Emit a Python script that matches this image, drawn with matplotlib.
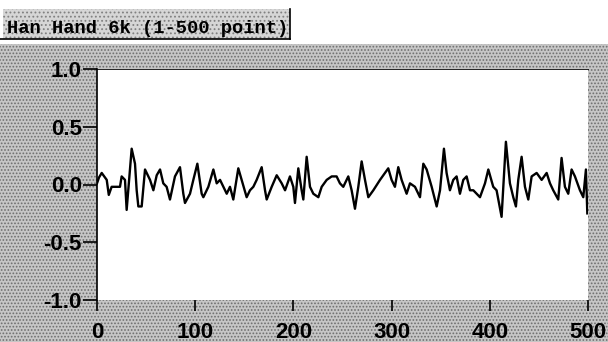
import matplotlib
matplotlib.use('Agg')
import matplotlib.pyplot as plt
from matplotlib.patches import Rectangle

# ---------- data (sample index, amplitude) ----------
sample = [0, 2, 4.8, 9.9, 12, 14.9, 23.4, 25.1, 28.5, 30.2, 35.3, 38.7, 40.4, 42.1, 45.5,
          48.9, 54, 57.4, 60.8, 64.2, 67.5, 70.9, 74.3, 79.4, 84.5, 87.9, 89.6, 94.7,
          98.1, 102.2, 106.6, 108.3, 113.4, 118.5, 121.9, 125.3, 128.7, 132.1, 135.4,
          138.8, 143.9, 147.3, 152.4, 155.8, 159.2, 162.6, 167.7, 171.1, 172.8, 177.9,
          183, 188.1, 191.5, 196.5, 199.9, 201.6, 205, 208.4, 210.1, 213.5, 216.9,
          220.3, 225.4, 228.8, 233.9, 239, 244, 247.4, 250.8, 255.9, 259.3, 262.7,
          266.1, 269.5, 272.9, 276.3, 281.4, 288.2, 291.6, 296.6, 300, 303.4, 306.8,
          310.2, 315.3, 318.7, 323.8, 328.9, 332.3, 335.7, 340.8, 345.9, 349.3, 353.3,
          356, 359.4, 362.8, 366.2, 369.6, 373, 376.4, 379.8, 383.2, 390, 395.1, 398.5,
          403.5, 406.9, 412, 416.4, 420.5, 423.9, 426.6, 429, 432.4, 435.8, 439.2,
          442.6, 447.7, 452.8, 457.9, 461.3, 464.6, 469.7, 473.1, 476.5, 479.9, 483.3,
          486.7, 491.8, 495.2, 497.9, 499.3]
amplitude = [0.01, 0.06, 0.10, 0.04, -0.09, -0.02, -0.02, 0.07, 0.04, -0.22, 0.31, 0.18,
             -0.05, -0.19, -0.19, 0.13, 0.04, -0.05, 0.08, 0.13, 0.01, -0.02, -0.13, 0.07,
             0.15, -0.08, -0.16, -0.08, 0.04, 0.18, -0.08, -0.11, -0.02, 0.13, 0.01, 0.04,
             -0.02, -0.08, -0.02, -0.13, 0.14, 0.04, -0.11, -0.05, -0.02, 0.04, 0.15, -0.05,
             -0.13, -0.02, 0.08, 0.01, -0.05, 0.07, -0.02, -0.16, 0.14, -0.05, -0.13, 0.24,
             -0.02, -0.08, -0.11, -0.02, 0.04, 0.07, 0.07, 0.01, -0.02, 0.07, -0.05, -0.21,
             -0.02, 0.20, 0.04, -0.11, -0.05, 0.04, 0.08, 0.14, 0.04, -0.02, 0.15, 0.04,
             -0.08, 0.01, -0.02, -0.11, 0.18, 0.13, -0.02, -0.19, -0.05, 0.31, 0.10, -0.05,
             0.04, 0.07, -0.08, 0.04, 0.07, -0.05, -0.05, -0.11, 0.01, 0.13, -0.02, -0.05,
             -0.28, 0.37, 0.01, -0.11, -0.19, 0.04, 0.24, -0.02, -0.13, 0.07, 0.10, 0.04,
             0.10, 0.01, -0.05, -0.13, 0.23, -0.02, -0.08, 0.13, 0.07, -0.05, -0.11, 0.13,
             -0.25]

title = 'Han Hand 6k (1-500 point)'
yticks = [-1.0, -0.5, 0.0, 0.5, 1.0]
xticks = [0, 100, 200, 300, 400, 500]

# ---------- figure ----------
W, H = 608, 342
plt.rcParams['hatch.linewidth'] = 0.8
fig = plt.figure(figsize=(W / 100, H / 100), dpi=100)
fig.patch.set_facecolor('white')

# stippled grey panel behind the plot (scan texture approximated by a hatch)
def px_rect(x0, y0, x1, y1, **kw):
    return Rectangle((x0 / W, 1 - y1 / H), (x1 - x0) / W, (y1 - y0) / H,
                     transform=fig.transFigure, **kw)

fig.patches.append(px_rect(0, 44, W, H, facecolor='#c6c6c6', hatch='.....',
                           edgecolor='#6e6e6e', linewidth=0, zorder=-10))
# title box
fig.patches.append(px_rect(3, 9, 290, 39, facecolor='#d6d6d6', hatch='....',
                           edgecolor='#808080', linewidth=0, zorder=-10))
fig.add_artist(plt.Line2D([0, 290 / W], [1 - 39 / H, 1 - 39 / H],
                          transform=fig.transFigure, color='black', lw=1.2))
fig.add_artist(plt.Line2D([290 / W, 290 / W], [1 - 9 / H, 1 - 39 / H],
                          transform=fig.transFigure, color='black', lw=1.2))
fig.text(7 / W, 1 - 33 / H, title, family='Liberation Mono', fontweight='bold',
         fontsize=13.5, ha='left', va='baseline', color='black')

# ---------- axes ----------
ax = fig.add_axes([97 / W, 1 - 300 / H, (588 - 97) / W, (300 - 69) / H])
ax.set_zorder(1)
ax.set_facecolor('white')
ax.plot(sample, amplitude, color='black', linewidth=1.7)

ax.set_xlim(0, 500)
ax.set_ylim(-1.0, 1.0)
ax.set_xticks(xticks)
ax.set_yticks(yticks)
ax.set_yticklabels([f'{v:.1f}' for v in yticks])

for s in ['right', 'bottom']:
    ax.spines[s].set_visible(False)
ax.spines['left'].set_linewidth(1.2)
ax.spines['top'].set_linewidth(0.6)

ax.tick_params(axis='y', direction='out', length=10, width=1.2, pad=1,
               labelsize=16)
ax.tick_params(axis='x', direction='out', length=8, width=1.2, pad=8,
               labelsize=16)
for lab in ax.get_xticklabels() + ax.get_yticklabels():
    lab.set_family('Liberation Sans')
    lab.set_fontweight('bold')

fig.savefig('out.png', dpi=100)
